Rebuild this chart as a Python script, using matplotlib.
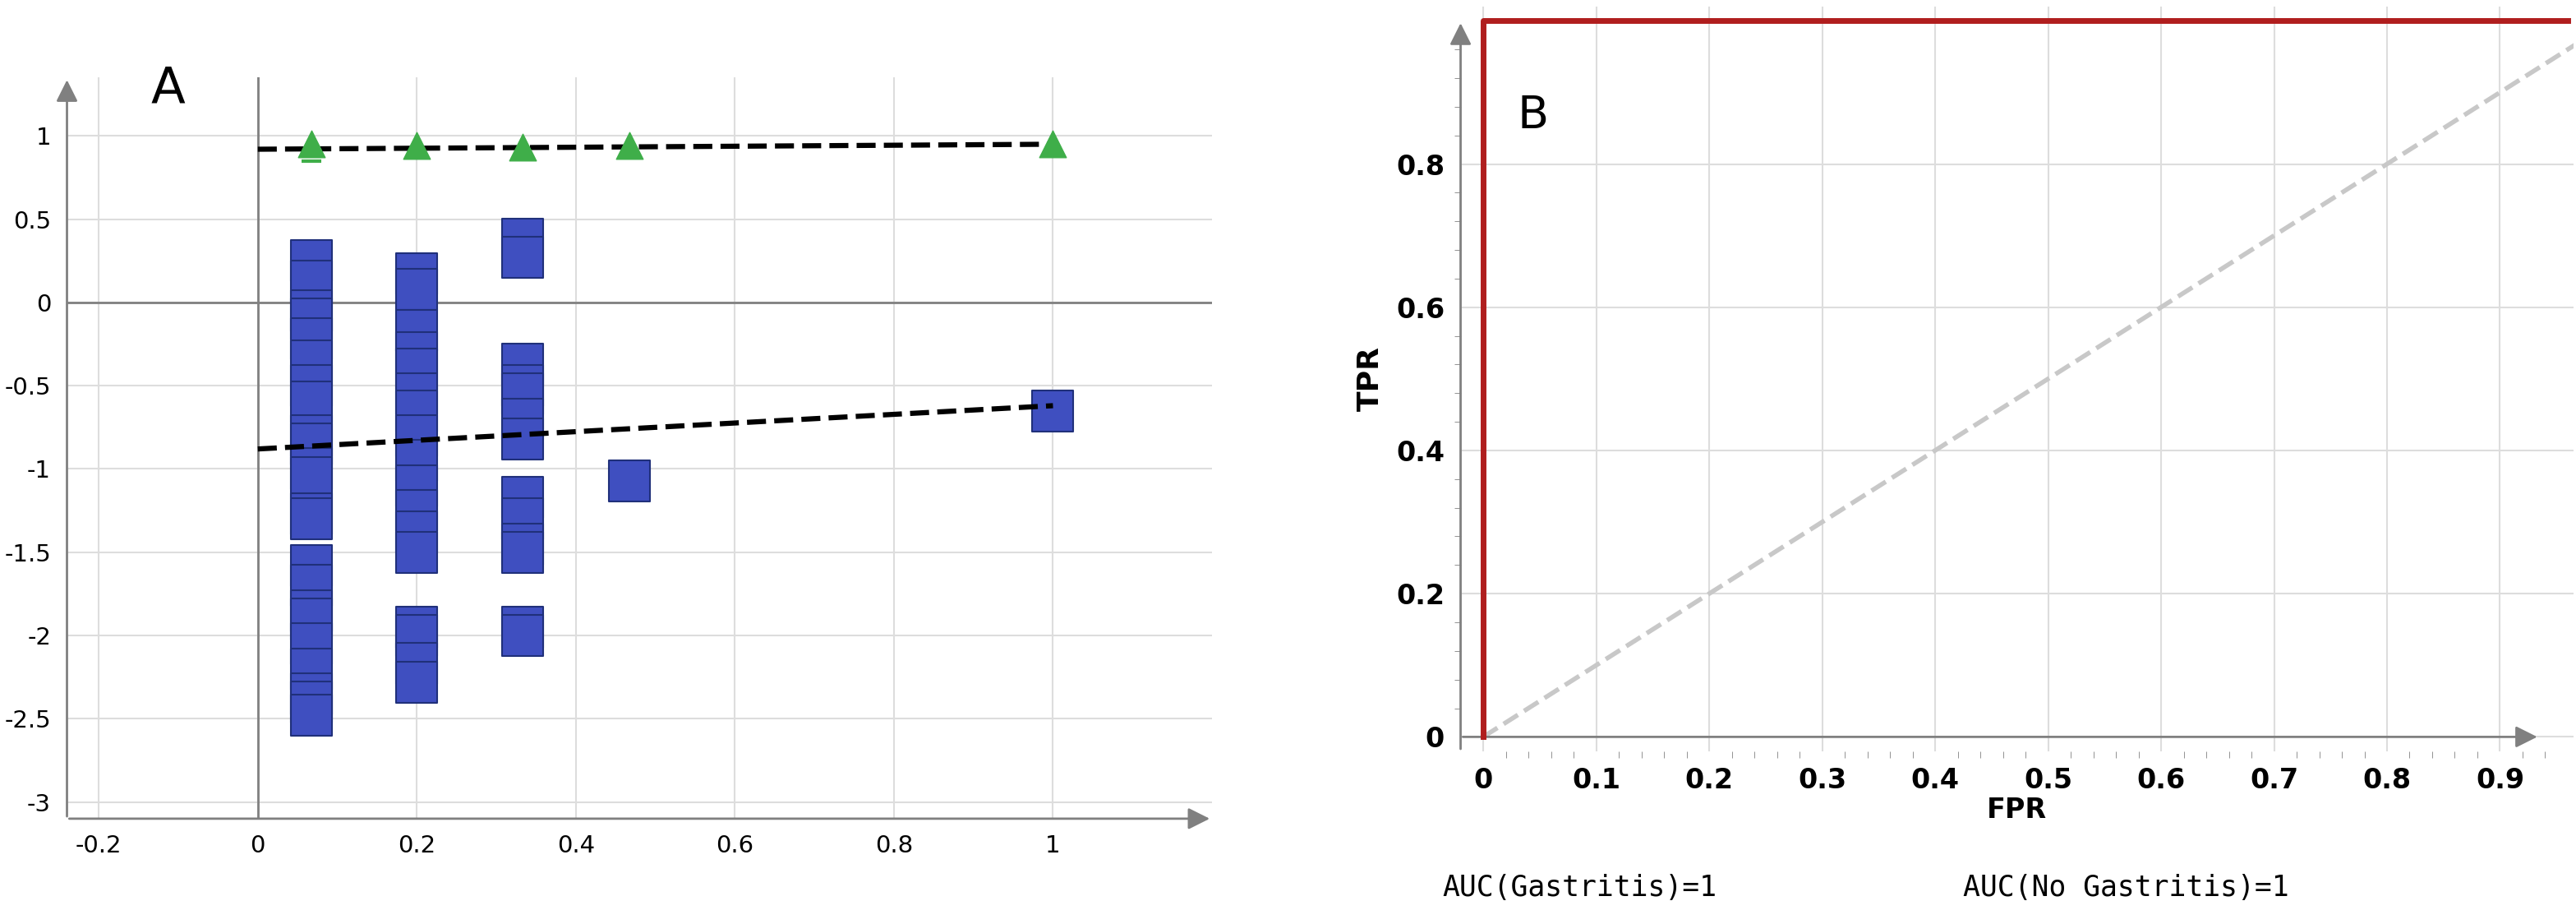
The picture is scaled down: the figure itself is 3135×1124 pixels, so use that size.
import matplotlib.pyplot as plt
import numpy as np

# panel A data
col_x = [0.067, 0.2, 0.333, 0.467, 1.0]
col_y = [
    [0.25, 0.13, -0.05, -0.1, -0.22, -0.35, -0.5, -0.6, -0.8, -0.85, -1.0, -1.05, -1.27, -1.3,
     -1.58, -1.7, -1.85, -1.9, -2.05, -2.2, -2.35, -2.4, -2.48],
    [0.17, 0.08, -0.17, -0.3, -0.4, -0.55, -0.65, -0.8, -0.95, -1.1, -1.25, -1.38, -1.5,
     -1.95, -2.0, -2.17, -2.28],
    [0.38, 0.27, -0.37, -0.5, -0.55, -0.7, -0.82, -1.17, -1.3, -1.45, -1.5, -1.95, -2.0],
    [-1.07],
    [-0.65],
]
tri_x = [0.067, 0.2, 0.333, 0.467, 1.0]
tri_y = [0.95, 0.94, 0.93, 0.94, 0.95]
fit_a_x = [0.0, 1.0]
fit_tri = [0.92, 0.95]
fit_sq = [-0.88, -0.62]

# panel B data
roc_fpr = [0.0, 0.0, 0.96]
roc_tpr = [0.0, 1.0, 1.0]
diag = [0.0, 1.0]

fig = plt.figure(figsize=(31.35, 11.24), dpi=100)
arrow = dict(arrowstyle='-|>', color='gray', lw=2, mutation_scale=40)

# ---- Panel A
ax = fig.add_axes([0.026, 0.114, 0.4445, 0.802])
ax.set_xlim(-0.24, 1.2)
ax.set_ylim(-3.1, 1.35)
for s in ax.spines.values():
    s.set_visible(False)
ax.set_xticks([-0.2, 0, 0.2, 0.4, 0.6, 0.8, 1])
ax.set_xticklabels(['-0.2', '0', '0.2', '0.4', '0.6', '0.8', '1'])
ax.set_yticks([-3, -2.5, -2, -1.5, -1, -0.5, 0, 0.5, 1])
ax.set_yticklabels(['-3', '-2.5', '-2', '-1.5', '-1', '-0.5', '0', '0.5', '1'])
ax.grid(True, color='#dddddd', lw=1.5)
ax.tick_params(length=0, labelsize=21, pad=14)
ax.axhline(0, color='gray', lw=2)
ax.axvline(0, color='gray', lw=2)
ax.annotate('', xy=(1.2, -3.1), xytext=(-0.24, -3.1), arrowprops=arrow, annotation_clip=False)
ax.annotate('', xy=(-0.24, 1.35), xytext=(-0.24, -3.1), arrowprops=arrow, annotation_clip=False)
for x, ys in zip(col_x, col_y):
    ax.scatter([x] * len(ys), ys, marker='s', s=1250, c='#3f4fc0', edgecolors='#20307a', linewidths=1.5, zorder=3)
ax.plot(fit_a_x, fit_tri, 'k--', lw=4.5, zorder=4)
ax.plot(fit_a_x, fit_sq, 'k--', lw=4.5, zorder=4)
ax.scatter(tri_x, tri_y, marker='^', s=550, c='#3fae49', zorder=5)
ax.scatter([0.067, 0.067], [0.88, 0.85], marker='_', s=300, c='#3fae49', linewidths=3, zorder=5)
ax.text(-0.135, 1.2, 'A', fontsize=44)

# ---- Panel B
bx = fig.add_axes([0.567, 0.187, 0.432, 0.806])
bx.set_xlim(-0.02, 0.965)
bx.set_ylim(-0.02, 1.02)
for s in bx.spines.values():
    s.set_visible(False)
bx.set_xticks(np.arange(0, 0.95, 0.1))
bx.set_xticklabels(['0', '0.1', '0.2', '0.3', '0.4', '0.5', '0.6', '0.7', '0.8', '0.9'], fontweight='bold')
bx.set_yticks([0, 0.2, 0.4, 0.6, 0.8])
bx.set_yticklabels(['0', '0.2', '0.4', '0.6', '0.8'], fontweight='bold')
bx.set_xticks(np.arange(0, 0.96, 0.02), minor=True)
bx.set_yticks(np.arange(0, 1.0, 0.04), minor=True)
bx.grid(True, which='major', color='#dddddd', lw=1.5)
bx.tick_params(which='major', length=0, labelsize=24, pad=14)
bx.tick_params(which='minor', length=6, color='gray')
bx.annotate('', xy=(0.935, 0), xytext=(-0.02, 0), arrowprops=arrow, annotation_clip=False)
bx.annotate('', xy=(-0.02, 1.0), xytext=(-0.02, -0.02), arrowprops=arrow, annotation_clip=False)
bx.plot(diag, diag, '--', color='#c8c8c8', lw=4)
bx.plot(roc_fpr, roc_tpr, color='#b01e1e', lw=5, zorder=4)
bx.set_xlabel('FPR', fontsize=24, fontweight='bold', labelpad=2)
bx.set_ylabel('TPR', fontsize=26, fontweight='bold', labelpad=10)
bx.text(0.03, 0.85, 'B', fontsize=40)
fig.text(0.56, 0.03, 'AUC(Gastritis)=1', fontsize=25, family='DejaVu Sans Mono')
fig.text(0.762, 0.03, 'AUC(No Gastritis)=1', fontsize=25, family='DejaVu Sans Mono')

fig.savefig('out.png', dpi=100)
